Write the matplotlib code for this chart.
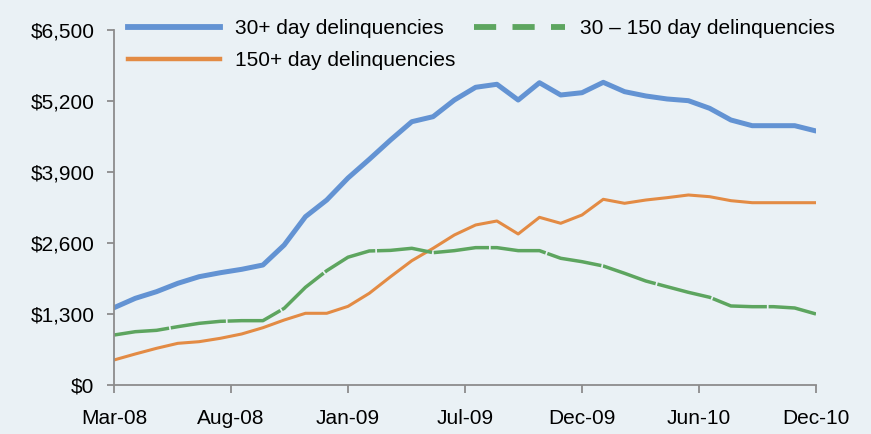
import numpy as np
import matplotlib.pyplot as plt
from matplotlib.lines import Line2D

plt.rcParams['font.family'] = ['Liberation Sans', 'DejaVu Sans']

# monthly values, Mar-08 .. Dec-10 ($ billions)
months = np.arange(34)
total_30 = [1415, 1587, 1709, 1862, 1983, 2056, 2118, 2197, 2563, 3082,
            3387, 3790, 4132, 4486, 4821, 4913, 5218, 5451, 5506, 5218,
            5535, 5310, 5352, 5542, 5371, 5292, 5237, 5206, 5066, 4852,
            4748, 4748, 4748, 4651]
over_150 = [458, 568, 672, 763, 793, 855, 934, 1049, 1190, 1313,
            1313, 1440, 1679, 1983, 2276, 2503, 2747, 2930, 3003, 2765,
            3070, 2961, 3113, 3400, 3327, 3387, 3430, 3479, 3448, 3375,
            3338, 3338, 3338, 3338]
mid_30_150 = [915, 976, 1001, 1068, 1129, 1166, 1178, 1178, 1404, 1789,
              2093, 2340, 2454, 2465, 2503, 2423, 2460, 2515, 2515, 2460,
              2460, 2320, 2258, 2179, 2045, 1904, 1800, 1697, 1606, 1447,
              1434, 1434, 1410, 1300]

x_tick_labels = ['Mar-08', 'Aug-08', 'Jan-09', 'Jul-09', 'Dec-09', 'Jun-10', 'Dec-10']
y_ticks = [0, 1300, 2600, 3900, 5200, 6500]
y_tick_labels = ['$0', '$1,300', '$2,600', '$3,900', '$5,200', '$6,500']

bg = '#EAF1F5'
blue = '#6393D3'
orange = '#E38B44'
green = '#5DA55F'
grey = '#8C8C8C'

fig = plt.figure(figsize=(8.71, 4.34), dpi=100, facecolor=bg)
ax = fig.add_axes([114/871, 1 - 385/434, (816-114)/871, (385-30)/434])
ax.set_facecolor(bg)

ax.plot(months, total_30, color=blue, lw=3.6, solid_capstyle='round',
        solid_joinstyle='round')
ax.plot(months, over_150, color=orange, lw=2.2, solid_capstyle='round',
        solid_joinstyle='round')
ax.plot(months, mid_30_150, color=green, lw=2.5, dashes=(16, 0.5),
        dash_joinstyle='round')

ax.set_xlim(0, 33)
ax.set_ylim(0, 6500)
ax.set_xticks(np.linspace(0, 33, 7))
ax.set_xticklabels(x_tick_labels)
ax.set_yticks(y_ticks)
ax.set_yticklabels(y_tick_labels)

for s in ['top', 'right']:
    ax.spines[s].set_visible(False)
for s in ['left', 'bottom']:
    ax.spines[s].set_color(grey)
    ax.spines[s].set_linewidth(1.3)
ax.tick_params(axis='both', colors=grey, labelcolor='black', labelsize=15,
               width=1.3, direction='out')
ax.tick_params(axis='y', length=5, pad=9)
ax.tick_params(axis='x', length=6, pad=11)

handles = [Line2D([], [], color=blue, lw=4.2),
           Line2D([], [], color=orange, lw=3.2),
           Line2D([], [], color=green, lw=4.2, dashes=(3.8, 2.8))]
labels = ['30+ day delinquencies', '150+ day delinquencies', '30 \u2013 150 day delinquencies']
fig.legend(handles, labels, ncol=2, loc='upper left',
           bbox_to_anchor=(128/871, 1 - 19/434), frameon=False, fontsize=15,
           handlelength=4.4, handletextpad=0.72, columnspacing=0.9,
           labelspacing=0.62, borderpad=0, borderaxespad=0)

fig.savefig('out.png', dpi=100, facecolor=bg)
